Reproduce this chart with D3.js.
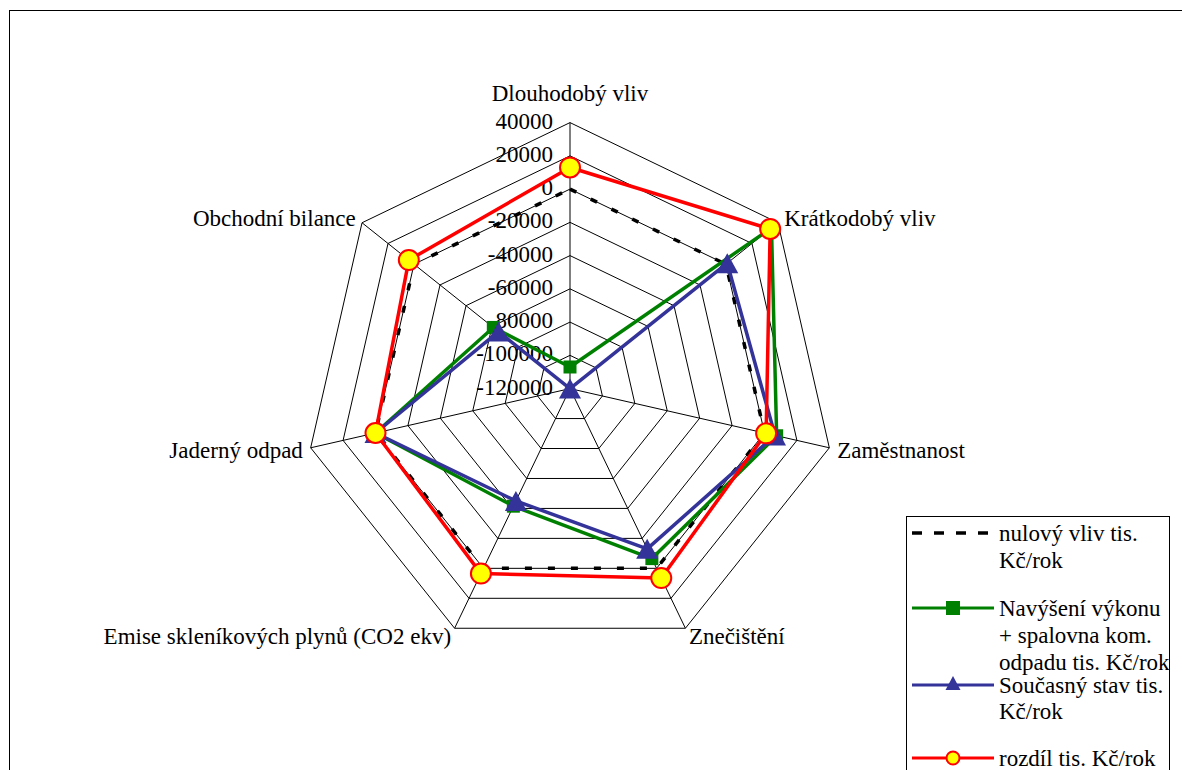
<!DOCTYPE html>
<html>
<head>
<meta charset="utf-8">
<script src="https://cdn.jsdelivr.net/npm/d3@7"></script>
<style>
  html, body { margin: 0; padding: 0; background: #fff; }
</style>
</head>
<body>
<svg id="chart" width="1182" height="770"></svg>
<script>
// Axis categories (clockwise from the top)
const categories = [
  "Dlouhodobý vliv",
  "Krátkodobý vliv",
  "Zaměstnanost",
  "Znečištění",
  "Emise skleníkových plynů (CO2 ekv)",
  "Jaderný odpad",
  "Obchodní bilance"
];

// Series values, tis. Kč/rok
const nulovyVliv = [0, 0, 0, 0, 0, 0, 0];
const navyseniVykonu = [-107000, 35000, 7500, -6500, -41500, 0, -61000];
const soucasnyStav = [-120000, 1000, 6500, -13000, -45000, 0, -65000];
const rozdil = [13000, 34000, 1000, 6500, 3500, 0, 4000];

// Radial tick labels
const tickValues = [40000, 20000, 0, -20000, -40000, -60000, -80000, -100000, -120000];

const legendLabels = [
  ["nulový vliv tis.", "Kč/rok"],
  ["Navýšení výkonu", "+ spalovna kom.", "odpadu tis. Kč/rok"],
  ["Současný stav tis.", "Kč/rok"],
  ["rozdíl tis. Kč/rok"]
];

const FONT_FAMILY = "'Liberation Serif', 'Times New Roman', serif";
const svg = d3.select("#chart");
const cx = 570, cy = 388.6, R = 266;
const FONT = 23;

const rScale = d3.scaleLinear().domain([-120000, 40000]).range([0, R]);
const angle = d3.scaleLinear().domain([0, categories.length]).range([0, 2 * Math.PI]);

function pt(i, v) {
  const a = angle(i), r = rScale(v);
  return [cx + r * Math.sin(a), cy - r * Math.cos(a)];
}
function ptR(i, r) {
  const a = angle(i);
  return [cx + r * Math.sin(a), cy - r * Math.cos(a)];
}

// Outer frame of the chart area
svg.append("rect")
  .attr("x", 9.5).attr("y", 10.5)
  .attr("width", 1200).attr("height", 800)
  .attr("fill", "none").attr("stroke", "#000").attr("stroke-width", 1);

const grid = svg.append("g");
const ringValues = tickValues.filter(v => v > -120000);
ringValues.forEach(v => {
  const pts = categories.map((c, i) => pt(i, v));
  grid.append("path")
    .attr("d", d3.line()(pts) + "Z")
    .attr("fill", "none").attr("stroke", "#000").attr("stroke-width", 1);
});
categories.forEach((c, i) => {
  const [x, y] = pt(i, 40000);
  grid.append("line")
    .attr("x1", cx).attr("y1", cy).attr("x2", x).attr("y2", y)
    .attr("stroke", "#000").attr("stroke-width", 1);
});

// Category labels
categories.forEach((c, i) => {
  const s = Math.sin(angle(i));
  let x, y, anchor;
  if (Math.abs(s) < 1e-6) {
    [x, y] = ptR(i, R + 30);
    anchor = "middle";
  } else {
    [x, y] = ptR(i, R + 8);
    anchor = s > 0 ? "start" : "end";
  }
  svg.append("text")
    .attr("x", x).attr("y", y).attr("dy", "0.35em")
    .attr("text-anchor", anchor)
    .style("font-family", FONT_FAMILY)
    .style("font-size", FONT + "px")
    .text(c);
});

// Radial tick labels along the top axis
tickValues.forEach(v => {
  const y = cy - rScale(v) - 2;
  svg.append("text")
    .attr("x", cx - 17).attr("y", y).attr("dy", "0.35em")
    .attr("text-anchor", "end")
    .style("font-family", FONT_FAMILY)
    .style("font-size", FONT + "px")
    .text(v);
});

const lineGen = d3.line().x(d => d[0]).y(d => d[1]).curve(d3.curveLinearClosed);
const series = svg.append("g");

function poly(values, color, width, dash) {
  series.append("path")
    .attr("d", lineGen(values.map((v, i) => pt(i, v))))
    .attr("fill", "none").attr("stroke", color).attr("stroke-width", width)
    .attr("stroke-dasharray", dash || null)
    .attr("stroke-linejoin", "round");
}

const triPath = (w, h) => `M0,${-h / 2}L${w / 2},${h / 2}L${-w / 2},${h / 2}Z`;

poly(nulovyVliv, "#000", 3.5, "7,16");

poly(navyseniVykonu, "#008000", 3.5);
navyseniVykonu.forEach((v, i) => {
  const [x, y] = pt(i, v);
  series.append("rect").attr("x", x - 6.5).attr("y", y - 6.5)
    .attr("width", 13).attr("height", 13).attr("fill", "#008000");
});

poly(soucasnyStav, "#333399", 3.5);
soucasnyStav.forEach((v, i) => {
  const [x, y] = pt(i, v);
  series.append("path").attr("d", triPath(22, 20))
    .attr("transform", `translate(${x},${y})`).attr("fill", "#333399");
});

poly(rozdil, "#ff0000", 3.5);
rozdil.forEach((v, i) => {
  const [x, y] = pt(i, v);
  series.append("circle").attr("cx", x).attr("cy", y).attr("r", 10)
    .attr("fill", "#ffff00").attr("stroke", "#ff0000").attr("stroke-width", 2);
});

// Legend
const lg = svg.append("g");
lg.append("rect").attr("x", 906.5).attr("y", 516.5)
  .attr("width", 263).attr("height", 300)
  .attr("fill", "#fff").attr("stroke", "#000").attr("stroke-width", 1);

const legendY = [533, 608, 685, 758];
const lx1 = 912, lx2 = 994, lmx = 953;
lg.append("line").attr("x1", lx1).attr("x2", lx2).attr("y1", legendY[0]).attr("y2", legendY[0])
  .attr("stroke", "#000").attr("stroke-width", 3.5).attr("stroke-dasharray", "10,12");
lg.append("line").attr("x1", lx1).attr("x2", lx2).attr("y1", legendY[1]).attr("y2", legendY[1])
  .attr("stroke", "#008000").attr("stroke-width", 3);
lg.append("rect").attr("x", lmx - 7).attr("y", legendY[1] - 7).attr("width", 14).attr("height", 14)
  .attr("fill", "#008000");
lg.append("line").attr("x1", lx1).attr("x2", lx2).attr("y1", legendY[2]).attr("y2", legendY[2])
  .attr("stroke", "#333399").attr("stroke-width", 3);
lg.append("path").attr("d", triPath(15, 14)).attr("transform", `translate(${lmx},${legendY[2] - 2})`)
  .attr("fill", "#333399");
lg.append("line").attr("x1", lx1).attr("x2", lx2).attr("y1", legendY[3]).attr("y2", legendY[3])
  .attr("stroke", "#ff0000").attr("stroke-width", 3);
lg.append("circle").attr("cx", lmx).attr("cy", legendY[3]).attr("r", 6.5)
  .attr("fill", "#ffff00").attr("stroke", "#ff0000").attr("stroke-width", 2);

const legendLineGap = [27, 27, 26, 27];
legendLabels.forEach((lines, k) => {
  lines.forEach((t, j) => {
    lg.append("text")
      .attr("x", 999).attr("y", legendY[k] + j * legendLineGap[k]).attr("dy", "0.35em")
      .style("font-family", FONT_FAMILY)
      .style("font-size", FONT + "px")
      .text(t);
  });
});
</script>
</body>
</html>
